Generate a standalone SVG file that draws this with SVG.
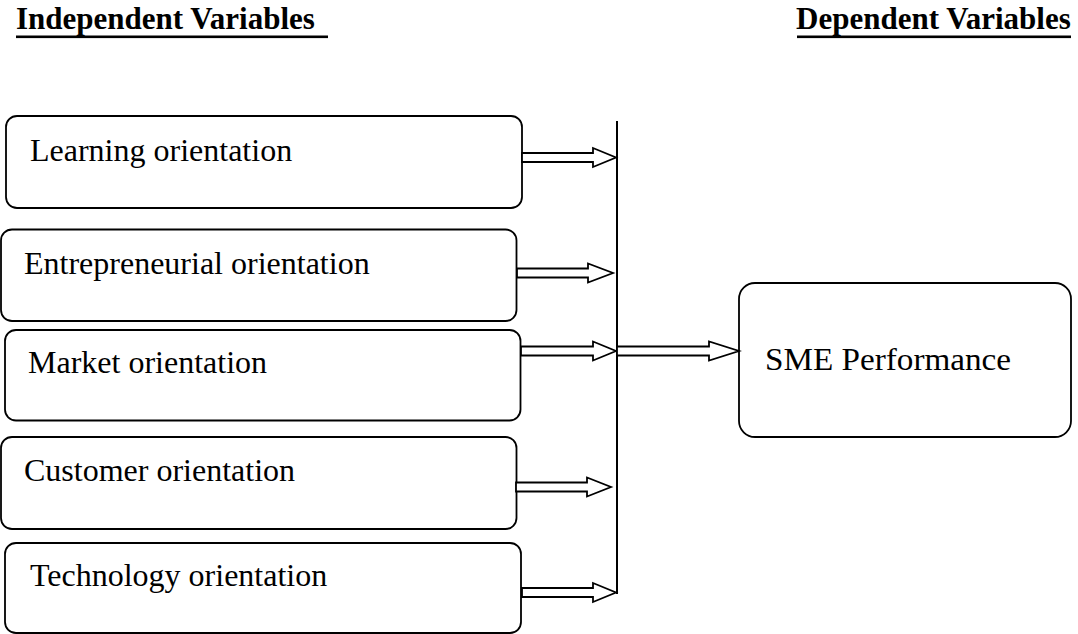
<svg xmlns="http://www.w3.org/2000/svg" width="1078" height="634" viewBox="0 0 1078 634">
<style>
.box{fill:#fff;stroke:#000;stroke-width:1.8}
.lbl{font-family:'Liberation Serif',serif;font-size:32px;fill:#000}
.ttl{font-family:'Liberation Serif',serif;font-size:31px;font-weight:bold;fill:#000}
.arr{fill:#fff;stroke:#000;stroke-width:1.8;stroke-linejoin:miter}
.ln{stroke:#000;stroke-width:2;fill:none}
</style>
<rect width="1078" height="634" fill="#fff"/>
<g id="titles">
<text class="ttl" x="16" y="29">Independent Variables</text>
<rect x="16" y="35.5" width="312" height="2.6" fill="#000"/>
<text class="ttl" x="796" y="29">Dependent Variables</text>
<rect x="797" y="35.5" width="274" height="2.6" fill="#000"/>
</g>
<g id="n1"><rect class="box" x="6" y="116" width="516" height="92" rx="11"/><text class="lbl" x="30" y="161">Learning orientation</text></g>
<g id="n2"><rect class="box" x="1" y="229.5" width="515.5" height="91.5" rx="11"/><text class="lbl" x="24" y="274">Entrepreneurial orientation</text></g>
<g id="n3"><rect class="box" x="5" y="330" width="515.5" height="90.5" rx="11"/><text class="lbl" x="28" y="373">Market orientation</text></g>
<g id="n4"><rect class="box" x="1" y="437" width="515.5" height="92" rx="11"/><text class="lbl" x="24" y="481">Customer orientation</text></g>
<g id="n5"><rect class="box" x="5" y="543" width="516" height="90" rx="11"/><text class="lbl" x="30" y="586">Technology orientation</text></g>
<g id="n6"><rect class="box" x="739" y="283" width="332" height="154" rx="16"/><text class="lbl" x="765" y="370" textLength="246" lengthAdjust="spacingAndGlyphs">SME Performance</text></g>
<g id="connectors">
<line class="ln" x1="617" y1="121" x2="617" y2="594"/>
<polygon class="arr" points="522,153 593,153 593,148 616,157.5 593,167 593,162 522,162"/>
<polygon class="arr" points="517,268.5 588,268.5 588,263.5 613,273 588,282.5 588,277.5 517,277.5"/>
<polygon class="arr" points="521,346.5 593,346.5 593,341.5 616,351 593,360.5 593,355.5 521,355.5"/>
<polygon class="arr" points="516,482.5 587,482.5 587,477.5 611,487 587,496.5 587,491.5 516,491.5"/>
<polygon class="arr" points="522,588 593,588 593,583 616,592.5 593,602 593,597 522,597"/>
<polygon class="arr" points="617,346.5 709,346.5 709,341.5 739,351 709,360.5 709,355.5 617,355.5"/>
</g>
</svg>
